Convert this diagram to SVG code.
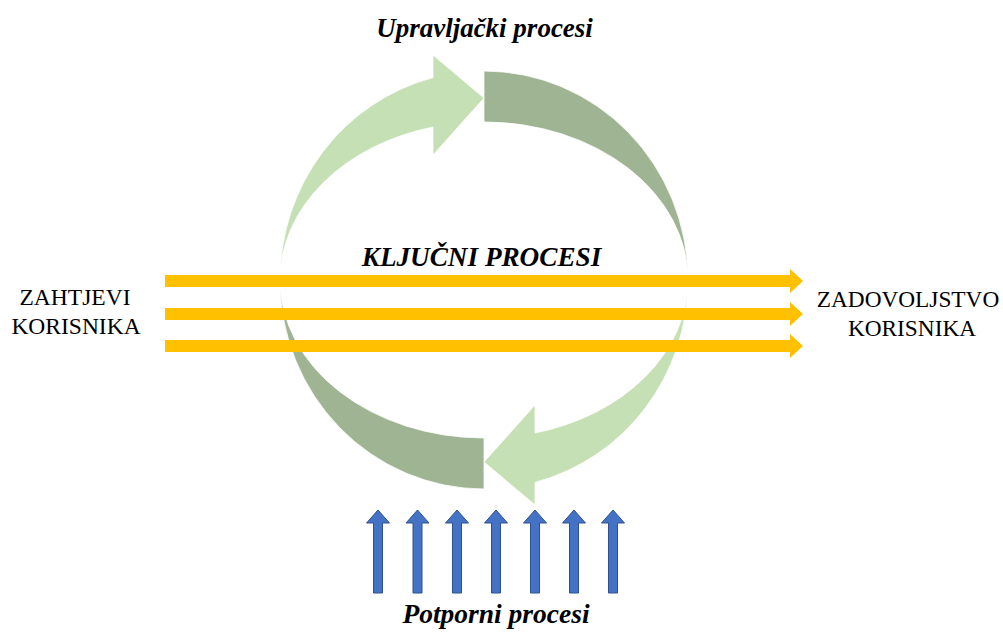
<svg xmlns="http://www.w3.org/2000/svg" width="1003" height="633" viewBox="0 0 1003 633">
<style>
.lg{fill:#C5E0B4;stroke:#FFFFFF;stroke-width:0.8}
.dg{fill:#9FB493;stroke:#FFFFFF;stroke-width:0.8}
.ya{fill:#FFC000}
.ba{fill:#4472C4;stroke:#2F528F;stroke-width:1}
.t{font-family:"Liberation Serif";fill:#000000;text-anchor:middle}
.bi{font-weight:bold;font-style:italic}
</style>
<defs>
<path id="yarrow" d="M0,-6 L625,-6 L625,-12 L638,0 L625,12 L625,6 L0,6 Z"/>
<path id="barrow" d="M0,0 L11.5,13 L4.5,13 L4.5,83 L-4.5,83 L-4.5,13 L-11.5,13 Z"/>
</defs>
<rect width="1003" height="633" fill="#FFFFFF"/>
<g id="cycle">
<path id="cycle-top-right" class="dg" d="M484,71 A204,209 0 0 1 688,280 A204,158 0 0 0 484,122 Z"/>
<path id="cycle-bottom-left" class="dg" d="M484,489 A204,209 0 0 1 280,280 A204,158 0 0 0 484,438 Z"/>
<path id="cycle-top-left" class="lg" d="M280,280 A204,209 0 0 1 433,77.6 L433,55 L484,98 L433,155 L433,127 A204,158 0 0 0 280,280 Z"/>
<path id="cycle-bottom-right" class="lg" d="M688,280 A204,209 0 0 1 535,482.4 L535,505 L484,462 L535,405 L535,433 A204,158 0 0 0 688,280 Z"/>
</g>
<g id="connectors">
<use href="#yarrow" class="ya" x="165" y="281"/>
<use href="#yarrow" class="ya" x="165" y="314"/>
<use href="#yarrow" class="ya" x="165" y="346"/>
<use href="#barrow" class="ba" x="378" y="510"/>
<use href="#barrow" class="ba" x="417.5" y="510"/>
<use href="#barrow" class="ba" x="457" y="510"/>
<use href="#barrow" class="ba" x="496" y="510"/>
<use href="#barrow" class="ba" x="535" y="510"/>
<use href="#barrow" class="ba" x="574" y="510"/>
<use href="#barrow" class="ba" x="613" y="510"/>
</g>
<g id="label-upravljacki">
<text class="t bi" x="484.5" y="37" font-size="27">Upravljački procesi</text>
</g>
<g id="label-kljucni">
<text class="t bi" x="481.5" y="266" font-size="27.2">KLJUČNI PROCESI</text>
</g>
<g id="label-potporni">
<text class="t bi" x="496" y="623" font-size="27.5">Potporni procesi</text>
</g>
<g id="label-zahtjevi">
<text class="t" x="75" y="305" font-size="23.5">ZAHTJEVI</text>
<text class="t" x="76" y="334" font-size="23.5">KORISNIKA</text>
</g>
<g id="label-zadovoljstvo">
<text class="t" x="908" y="307" font-size="23.3">ZADOVOLJSTVO</text>
<text class="t" x="912" y="336" font-size="23.3">KORISNIKA</text>
</g>
</svg>
